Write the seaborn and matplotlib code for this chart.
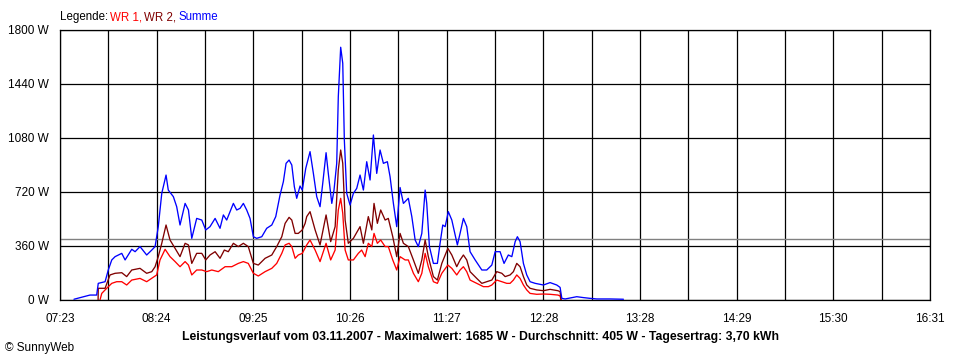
import matplotlib
matplotlib.use("Agg")
import matplotlib.pyplot as plt
import numpy as np
import pandas as pd
import seaborn as sns

# ---------------- data ----------------
# time axis: minutes after 07:23
x_tick_labels = ["07:23", "", "08:24", "", "09:25", "", "10:26", "", "11:27", "",
                 "12:28", "", "13:28", "", "14:29", "", "15:30", "", "16:31"]
x_span_min = 548
y_ticks = [0, 360, 720, 1080, 1440, 1800]
y_tick_labels = ["0 W", "360 W", "720 W", "1080 W", "1440 W", "1800 W"]
average_w = 405

summe_t = [8.8, 18.9, 23.1, 24.1, 28.4, 30.4, 32.6, 34.7, 38.9, 41.0,
           45.2, 47.3, 50.4, 54.6, 57.8, 59.9, 61.9, 64.1, 66.8, 68.2,
           71.4, 73.5, 75.6, 78.8, 80.9, 83.0, 86.1, 89.3, 91.8, 94.5,
           97.7, 100.8, 102.9, 105.0, 109.2, 111.3, 113.4, 115.5, 117.6, 119.7,
           121.8, 123.9, 127.1, 130.2, 133.4, 135.9, 138.6, 140.7, 142.4, 144.3,
           146.0, 147.6, 149.1, 151.2, 152.6, 154.8, 157.5, 159.6, 161.7, 163.8,
           165.5, 167.6, 169.0, 171.2, 172.6, 174.3, 175.3, 176.8, 178.1, 179.1,
           180.6, 182.7, 184.8, 186.9, 189.0, 191.1, 193.2, 195.3, 197.4, 199.5,
           201.6, 203.7, 206.2, 207.9, 210.0, 212.1, 214.2, 216.3, 219.4, 221.6,
           223.7, 225.7, 227.9, 230.0, 231.0, 232.7, 235.2, 237.7, 239.4, 241.1,
           242.6, 244.6, 246.8, 248.9, 250.3, 252.0, 254.1, 256.2, 258.3, 261.5,
           265.7, 268.8, 272.0, 274.1, 277.2, 279.7, 282.4, 284.6, 286.7, 288.1,
           289.8, 291.9, 294.0, 296.1, 299.3, 304.5, 308.7, 312.9, 315.0, 316.1,
           318.2, 325.5, 329.7, 333.9, 338.1, 346.5, 354.9]
summe_w = [5, 33, 33, 111, 122, 200, 267, 289, 311, 267,
           338, 322, 356, 300, 333, 356, 489, 711, 833, 733,
           689, 622, 500, 644, 600, 411, 544, 533, 467, 489,
           544, 478, 567, 533, 644, 600, 611, 644, 600, 544,
           422, 411, 422, 478, 500, 556, 700, 789, 911, 933,
           900, 756, 678, 760, 733, 878, 989, 844, 689, 622,
           778, 982, 844, 644, 733, 911, 1356, 1685, 1578, 1067,
           711, 633, 711, 744, 833, 733, 922, 800, 1100, 844,
           1000, 911, 922, 822, 644, 489, 750, 644, 678, 556,
           400, 356, 444, 733, 644, 356, 244, 244, 378, 500,
           489, 589, 533, 433, 367, 444, 544, 489, 322, 267,
           200, 200, 233, 322, 322, 244, 300, 289, 389, 422,
           389, 244, 167, 122, 111, 100, 116, 100, 84, 11,
           7, 22, 16, 11, 7, 7, 5]

wr2_t = [24.0, 24.1, 28.4, 31.5, 34.7, 38.9, 42.0, 45.2, 50.4, 54.6,
         57.8, 59.9, 61.9, 64.1, 66.8, 69.3, 72.5, 75.6, 78.8, 80.9,
         83.0, 86.1, 89.3, 91.8, 94.5, 97.7, 100.8, 103.5, 106.0, 109.2,
         112.3, 115.5, 118.6, 121.8, 124.9, 129.2, 133.4, 136.5, 139.7, 141.8,
         144.3, 146.0, 148.1, 150.1, 152.6, 154.4, 155.4, 157.5, 160.7, 163.8,
         167.6, 170.5, 173.3, 175.3, 176.8, 178.1, 179.6, 181.6, 184.8, 189.0,
         191.1, 194.2, 196.4, 197.8, 199.9, 202.0, 204.8, 206.8, 209.6, 212.1,
         214.2, 216.3, 219.4, 222.6, 225.7, 227.9, 230.0, 232.0, 235.2, 237.7,
         240.5, 244.3, 246.8, 249.9, 252.0, 254.1, 256.2, 258.3, 262.5, 265.7,
         268.8, 272.0, 275.1, 278.3, 280.4, 283.5, 285.6, 287.7, 289.8, 291.9,
         294.0, 296.1, 300.3, 304.5, 308.7, 313.6, 315.0, 315.6]
wr2_w = [0, 78, 78, 167, 178, 182, 156, 200, 211, 178,
         189, 222, 289, 378, 500, 400, 344, 289, 378, 367,
         244, 311, 311, 267, 300, 322, 278, 333, 322, 378,
         356, 378, 356, 244, 233, 278, 300, 356, 422, 511,
         551, 533, 444, 444, 467, 511, 556, 589, 467, 367,
         567, 389, 489, 867, 1000, 911, 533, 378, 411, 489,
         378, 556, 467, 644, 511, 600, 533, 544, 422, 289,
         444, 378, 356, 267, 178, 267, 400, 289, 156, 133,
         244, 344, 300, 222, 267, 300, 267, 189, 144, 111,
         122, 133, 189, 178, 156, 167, 189, 244, 222, 156,
         100, 78, 67, 62, 71, 62, 56, 0]

wr1_t = [25.2, 26.3, 29.4, 32.6, 35.7, 38.9, 42.0, 45.2, 50.4, 54.6,
         60.9, 63.0, 66.2, 69.3, 72.5, 75.6, 78.8, 80.9, 83.0, 86.1,
         89.3, 92.4, 95.6, 99.7, 104.0, 108.2, 112.3, 115.5, 118.6, 121.8,
         124.9, 129.2, 133.4, 136.5, 139.7, 141.8, 144.3, 146.0, 148.1, 150.1,
         152.6, 155.4, 157.5, 160.7, 163.8, 167.6, 170.5, 173.3, 175.3, 176.8,
         178.1, 179.6, 181.6, 184.8, 187.9, 190.0, 192.2, 194.2, 196.4, 197.8,
         199.9, 202.0, 204.8, 206.8, 209.6, 212.1, 214.2, 217.4, 219.4, 222.6,
         225.7, 227.9, 230.0, 232.0, 235.2, 237.7, 240.5, 244.3, 246.8, 249.9,
         252.0, 254.1, 256.2, 258.3, 262.5, 266.7, 269.8, 272.0, 275.1, 278.3,
         281.4, 283.5, 285.6, 287.7, 289.8, 291.9, 294.0, 296.1, 300.3, 304.5,
         308.7, 313.6, 315.0, 315.6]
wr1_w = [0, 44, 78, 111, 122, 122, 100, 133, 144, 122,
         167, 267, 338, 289, 256, 222, 256, 233, 167, 200,
         200, 189, 200, 189, 222, 222, 244, 256, 244, 178,
         160, 189, 211, 244, 311, 367, 378, 356, 278, 300,
         311, 367, 400, 333, 256, 378, 267, 333, 600, 678,
         578, 333, 267, 267, 311, 333, 289, 378, 356, 444,
         378, 400, 356, 356, 267, 200, 289, 267, 267, 178,
         122, 178, 311, 222, 122, 111, 178, 233, 211, 167,
         200, 222, 189, 133, 111, 89, 89, 100, 133, 122,
         111, 111, 133, 167, 144, 100, 67, 44, 38, 40,
         38, 33, 27, 0]

legend_parts = ["Legende:", "WR 1,", "WR 2,", "Summe"]
legend_colors = ["black", "#ff0000", "#800000", "#0000ff"]
footer_text = ("Leistungsverlauf vom 03.11.2007 - Maximalwert: 1685 W - "
               "Durchschnitt: 405 W - Tagesertrag: 3,70 kWh")

# ---------------- plot ----------------
sns.set_theme(style="white")
plt.rcParams['font.family'] = ['Liberation Sans', 'DejaVu Sans']

fig = plt.figure(figsize=(9.6, 3.6), dpi=100)
fig.patch.set_facecolor("white")
ax = fig.add_axes([60 / 960, 1 - 300 / 360, 870 / 960, 270 / 360])
ax.set_facecolor("white")

ax.axhline(average_w, color="#808080", lw=1.0, zorder=1.5)

sns.lineplot(x=wr1_t, y=wr1_w, color="#ff0000", lw=0.95, ax=ax,
             estimator=None, sort=False, zorder=3)
sns.lineplot(x=wr2_t, y=wr2_w, color="#800000", lw=0.95, ax=ax,
             estimator=None, sort=False, zorder=3)
sns.lineplot(x=summe_t, y=summe_w, color="#0000ff", lw=0.95, ax=ax,
             estimator=None, sort=False, zorder=3)

ax.set_xlim(0, x_span_min)
ax.set_ylim(y_ticks[0], y_ticks[-1])
ax.set_xticks(np.linspace(0, x_span_min, len(x_tick_labels)))
ax.set_xticklabels(x_tick_labels)
ax.set_yticks(y_ticks)
ax.set_yticklabels(y_tick_labels)
ax.set_xlabel("")
ax.set_ylabel("")

ax.grid(True, color="black", lw=0.9)
ax.set_axisbelow(True)
for s in ax.spines.values():
    s.set_color("black")
    s.set_linewidth(0.9)
    s.set_visible(True)
ax.tick_params(axis="both", which="major", direction="out", length=4,
               width=0.9, color="black", labelsize=8.5, labelcolor="black")
ax.tick_params(axis="y", pad=4)
ax.tick_params(axis="x", pad=5)

# legend line at top: chain the coloured pieces one after another
fig.canvas.draw()
renderer = fig.canvas.get_renderer()
x_px = 60.0
for part, col in zip(legend_parts, legend_colors):
    t = fig.text(x_px / 960, 1 - 17 / 360, part, color=col, fontsize=8.3, va="center")
    bb = t.get_window_extent(renderer=renderer)
    x_px = bb.x1 + 2.0

fig.text(480 / 960, 1 - 337 / 360, footer_text, fontsize=8.8, fontweight="bold",
         ha="center", va="center", color="black")
fig.text(5 / 960, 1 - 348 / 360, "© SunnyWeb", fontsize=8.5, ha="left",
         va="center", color="black")

fig.savefig("out.png", dpi=100, facecolor="white")
